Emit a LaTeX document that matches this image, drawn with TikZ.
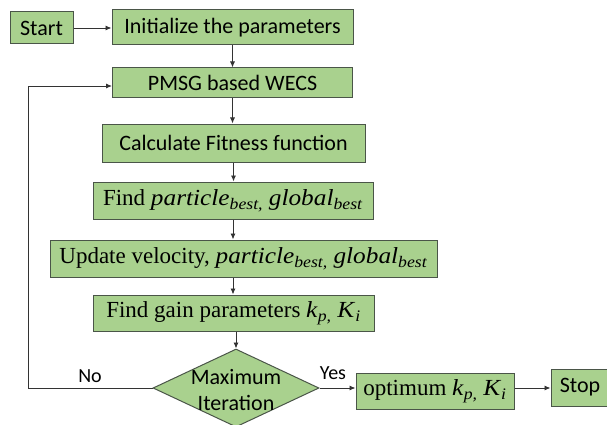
\documentclass[tikz,border=0pt]{standalone}
\usepackage{fontspec}
\setmainfont{Carlito}
\newfontfamily\serifx{Liberation Serif}
\usetikzlibrary{shapes.geometric,arrows.meta}
\definecolor{boxfill}{HTML}{A9D18E}
\definecolor{boxline}{HTML}{4A5548}
\newcommand\mvar[2]{{\addfontfeatures{FakeStretch=1.1}\textit{#1}\textsubscript{\textit{#2}}}}
\begin{document}
\begin{tikzpicture}[x=1pt,y=-1pt,
  box/.style={draw=boxline,fill=boxfill,line width=1pt,inner sep=0pt,font=\fontsize{22}{26}\selectfont},
  sbox/.style={box,font=\serifx\fontsize{23}{27}\selectfont},
  arr/.style={-{Latex[length=6pt,width=5pt]},line width=0.9pt,black!80},
  lbl/.style={font=\fontsize{20}{24}\selectfont,inner sep=0pt}]
\useasboundingbox (0,0) rectangle (607,425);
\clip (0,0) rectangle (607,425);
\node[box,minimum width=63pt,minimum height=32pt] (start) at (41.5,28) {Start};
\node[box,minimum width=241pt,minimum height=35pt] (init) at (232.5,27.5) {Initialize the parameters};
\node[box,minimum width=240pt,minimum height=30pt] (pmsg) at (232.5,83) {PMSG based WECS};
\node[box,minimum width=263pt,minimum height=38pt] (calc) at (233.5,143) {Calculate Fitness function};
\node[sbox,minimum width=280pt,minimum height=37pt] (find) at (233,200.5) {Find \mvar{particle}{best,} \mvar{global}{best}};
\node[sbox,minimum width=387pt,minimum height=37pt] (upd) at (243.5,258.5) {Update velocity, \mvar{particle}{best,} \mvar{global}{best}};
\node[sbox,minimum width=281pt,minimum height=36pt] (gain) at (233.5,313) {Find gain parameters \mvar{k}{p,} \mvar{K}{i}};
\node[diamond,draw=boxline,fill=boxfill,line width=1pt,inner sep=0pt,minimum width=166pt,minimum height=78pt] (dia) at (236,388) {};
\node[font=\fontsize{22}{26}\selectfont,align=center,inner sep=0pt] (diatext) at (236,390) {Maximum\\Iteration};
\node[sbox,minimum width=158pt,minimum height=36pt] (opt) at (435,391) {optimum \mvar{k}{p,} \mvar{K}{i}};
\node[box,minimum width=58pt,minimum height=37pt] (stop) at (580,387.5) {Stop};
\node[lbl] (no) at (90,376) {No};
\node[lbl] (yes) at (333,373) {Yes};
\coordinate (lp1) at (28,388);
\coordinate (lp2) at (28,86);
\draw[arr] (start.east) -- (init.west |- start.east);
\draw[arr] (init.south) -- (init.south |- pmsg.north);
\draw[arr] (pmsg.south) -- (pmsg.south |- calc.north);
\draw[arr] (calc.south) -- (calc.south |- find.north);
\draw[arr] (find.south) -- (find.south |- upd.north);
\draw[arr] (find.south |- upd.south) -- (find.south |- gain.north);
\draw[arr] (dia.north |- gain.south) -- (dia.north);
\draw[arr] (dia.west) -- (lp1) -- (lp2) -- (lp2 -| pmsg.west);
\draw[arr] (dia.east) -- (dia.east -| opt.west);
\draw[arr] (opt.east |- dia.east) -- (stop.west |- dia.east);
\end{tikzpicture}
\end{document}
